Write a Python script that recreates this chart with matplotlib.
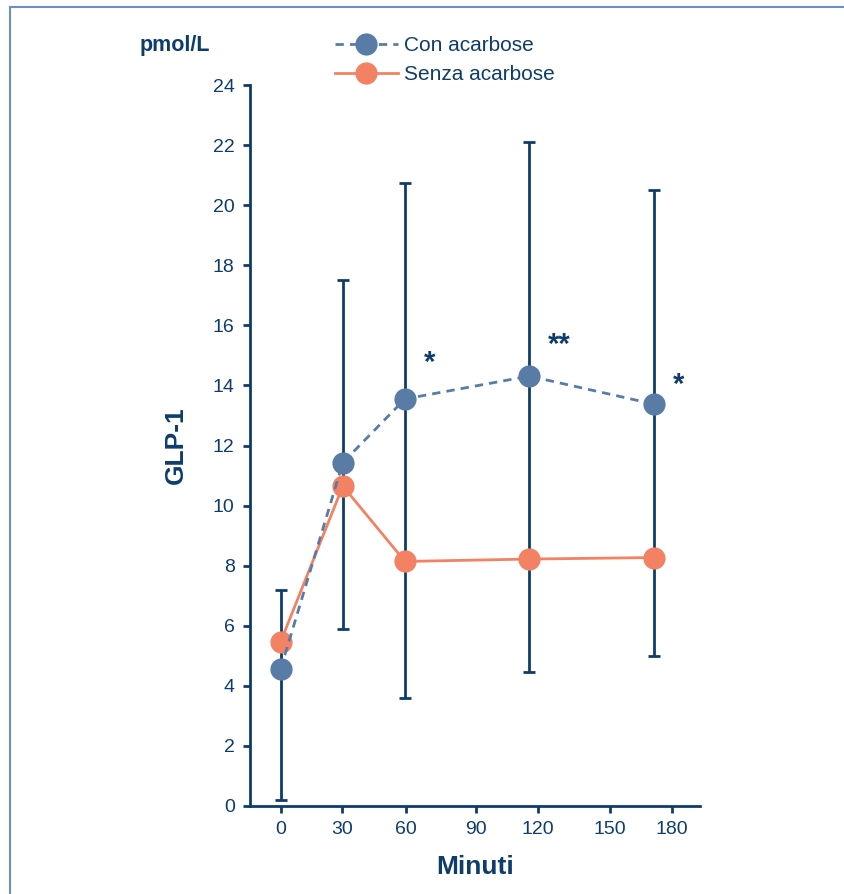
import matplotlib
matplotlib.use('Agg')
import matplotlib.pyplot as plt
from matplotlib.lines import Line2D

plt.rcParams['font.family'] = ['Liberation Sans Narrow', 'Liberation Sans', 'DejaVu Sans']

navy = '#0e3d6b'
blue = '#587ca6'
orange = '#f28263'

minuti = [0, 30, 60, 120, 180]
con_acarbose = [4.56, 11.43, 13.55, 14.31, 13.38]
senza_acarbose = [5.47, 10.65, 8.14, 8.22, 8.27]
err_basso = [0.2, 5.9, 3.6, 4.45, 5.0]
err_alto = [7.2, 17.5, 20.75, 22.1, 20.5]

# tick positions as they sit in the original figure (not evenly spaced)
xtick_pos = [0, 29.8, 60.4, 94.2, 124, 158.9, 188.9]
xtick_lab = ['0', '30', '60', '90', '120', '150', '180']
ytick_pos = list(range(0, 25, 2))

asterischi = [(72, 14.75, '*'), (134.5, 15.35, '**'), (192, 14.0, '*')]

fig = plt.figure(figsize=(8.45, 8.94), dpi=100)
ax = fig.add_axes([250 / 845, 88 / 894, 450 / 845, (806 - 85) / 894])

lo = [c - b for c, b in zip(con_acarbose, err_basso)]
hi = [a - c for c, a in zip(con_acarbose, err_alto)]
ax.errorbar(minuti, con_acarbose, yerr=[lo, hi], fmt='none', ecolor=navy,
            elinewidth=2.0, capsize=4.5, capthick=2.0, zorder=1)

ax.plot(minuti, con_acarbose, color=blue, lw=2.0, ls=(0, (3, 2.2)),
        marker='o', ms=16, mfc=blue, mew=0, zorder=3,
        label='Con acarbose')
ax.plot(minuti, senza_acarbose, color=orange, lw=2.0, ls='-',
        marker='o', ms=16, mfc=orange, mew=0, zorder=2,
        label='Senza acarbose')

for x, y, s in asterischi:
    ax.text(x, y, s, color=navy, fontsize=21, fontweight='bold',
            ha='center', va='center')

ax.set_xlim(-14.8, 202.4)
ax.set_ylim(0, 24)
ax.set_xticks(xtick_pos)
ax.set_xticklabels(xtick_lab)
ax.set_yticks(ytick_pos)

for side in ['top', 'right']:
    ax.spines[side].set_visible(False)
for side in ['left', 'bottom']:
    ax.spines[side].set_color(navy)
    ax.spines[side].set_linewidth(2.0)
ax.tick_params(colors=navy, labelcolor=navy, width=2.0, length=5,
               labelsize=14)
ax.tick_params(axis='y', pad=6)
ax.tick_params(axis='x', pad=6)

ax.set_xlabel('Minuti', fontsize=19, fontweight='bold', color=navy, labelpad=12)
ax.set_ylabel('GLP-1', fontsize=19, fontweight='bold', color=navy, labelpad=18)

fig.text(140 / 845, 1 - 46 / 894, 'pmol/L', fontsize=15.5, fontweight='bold',
         color=navy, ha='left', va='center')

leg = ax.legend(loc='upper left', bbox_to_anchor=(335 / 845, 1 - 36 / 894),
                bbox_transform=fig.transFigure, frameon=False, fontsize=15,
                handlelength=3.0, handletextpad=0.3, labelspacing=0.5,
                borderpad=0, borderaxespad=0)
for t in leg.get_texts():
    t.set_color(navy)

# light frame around the panel
fig.add_artist(Line2D([10 / 845, 1], [1 - 7 / 894, 1 - 7 / 894],
                      transform=fig.transFigure, color='#6a8fc0', lw=1.5))
fig.add_artist(Line2D([10 / 845, 10 / 845], [0, 1 - 7 / 894],
                      transform=fig.transFigure, color='#6a8fc0', lw=1.5))

fig.savefig('out.png', dpi=100)
